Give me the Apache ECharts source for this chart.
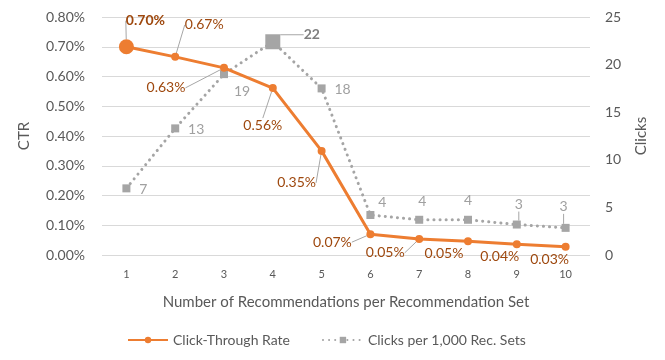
<!DOCTYPE html>
<html>
<head>
<meta charset="utf-8">
<script src="https://cdn.jsdelivr.net/npm/echarts@6/dist/echarts.min.js"></script>
<style>
  html, body { margin: 0; padding: 0; background: #fff; }
  #chart { width: 665px; height: 360px; }
</style>
</head>
<body>
<div id="chart"></div>
<script>
  const categories = ['1', '2', '3', '4', '5', '6', '7', '8', '9', '10']
  const ctrValues = [0.70, 0.666, 0.629, 0.561, 0.35, 0.07, 0.054, 0.046, 0.036, 0.028]
  const ctrLabels = ['0.70%', '0.67%', '0.63%', '0.56%', '0.35%', '0.07%', '0.05%', '0.05%', '0.04%', '0.03%']
  const clickValues = [7.0, 13.3, 19.0, 22.4, 17.5, 4.2, 3.7, 3.7, 3.2, 2.85]
  const clickLabels = ['7', '13', '19', '22', '18', '4', '4', '4', '3', '3']

  // label offsets from each point (dx, dy), like the hand-placed Excel labels
  const ctrLabelOffsets = [[19, -26], [29, -32], [-58, 20], [-10, 37], [-25, 32], [-38, 8], [-34, 14], [-24, 12], [-17, 12], [-16, 13]]
  const ctrLeader = [true, true, true, true, true, true, true, false, false, false]
  const clickLabelOffsets = [[17, 1], [21, 1], [18, 17], [39, -7], [21, 1], [12, -13], [3, -18], [0, -19], [2, -20], [-2, -21]]
  const clickLeader = [false, false, false, true, false, false, false, false, true, true]

  const font = 'Lato, "Open Sans", sans-serif'
  const orange = '#ed7d31'
  const gray = '#a5a5a5'
  const textColor = '#595959'
  const leaderStyle = { color: '#a6a6a6', width: 1 }

  const chart = echarts.init(document.getElementById('chart'))
  const options = {
    animation: false,
    textStyle: { fontFamily: font },
    grid: { left: 102, right: 75, top: 17, bottom: 105 },
    legend: {
      left: 122,
      top: 328,
      itemWidth: 40,
      itemHeight: 8,
      itemGap: 32,
      textStyle: { color: textColor, fontSize: 14, fontFamily: font },
      data: ['Click-Through Rate', 'Clicks per 1,000 Rec. Sets'],
    },
    xAxis: {
      type: 'category',
      data: categories,
      boundaryGap: true,
      axisLine: { show: false },
      axisTick: { show: false },
      axisLabel: { color: textColor, fontSize: 11, margin: 14, fontFamily: font },
      name: 'Number of Recommendations per Recommendation Set',
      nameLocation: 'middle',
      nameGap: 40,
      nameTextStyle: { color: textColor, fontSize: 15, fontFamily: font },
    },
    yAxis: [
      {
        type: 'value',
        min: 0,
        max: 0.8,
        interval: 0.1,
        name: 'CTR',
        nameLocation: 'middle',
        nameGap: 70,
        nameRotate: 90,
        nameTextStyle: { color: textColor, fontSize: 15, fontFamily: font },
        axisLine: { show: false },
        axisTick: { show: false },
        axisLabel: { color: textColor, fontSize: 14, margin: 17, fontFamily: font, formatter: v => v.toFixed(2) + '%' },
        splitLine: { lineStyle: { color: '#d9d9d9', width: 1 } },
      },
      {
        type: 'value',
        min: 0,
        max: 25,
        interval: 5,
        name: 'Clicks',
        nameLocation: 'middle',
        nameGap: 44,
        nameRotate: 90,
        nameTextStyle: { color: textColor, fontSize: 15, fontFamily: font },
        axisLine: { show: false },
        axisTick: { show: false },
        axisLabel: { color: textColor, fontSize: 14, margin: 15, fontFamily: font },
        splitLine: { show: false },
      },
    ],
    series: [
      {
        name: 'Clicks per 1,000 Rec. Sets',
        type: 'line',
        yAxisIndex: 1,
        z: 2,
        symbol: 'rect',
        symbolSize: 8,
        color: gray,
        itemStyle: { color: gray },
        lineStyle: { color: gray, width: 3, type: [0.1, 6], cap: 'round' },
        data: clickValues.map((v, i) => ({
          value: v,
          symbolSize: i === 3 ? 15 : 8,
          label: i === 3 ? { fontWeight: 'bold', color: '#7f7f7f' } : undefined,
          labelLine: { show: clickLeader[i], lineStyle: leaderStyle },
        })),
        label: {
          show: true,
          position: 'inside',
          color: '#a0a0a0',
          fontSize: 14,
          fontFamily: font,
          formatter: p => clickLabels[p.dataIndex],
        },
        labelLayout: p => ({ dx: clickLabelOffsets[p.dataIndex][0], dy: clickLabelOffsets[p.dataIndex][1] }),
        labelLine: { show: true, lineStyle: leaderStyle },
      },
      {
        name: 'Click-Through Rate',
        type: 'line',
        yAxisIndex: 0,
        z: 3,
        symbol: 'circle',
        symbolSize: 8,
        color: orange,
        itemStyle: { color: orange },
        lineStyle: { color: orange, width: 3 },
        data: ctrValues.map((v, i) => ({
          value: v,
          symbolSize: i === 0 ? 15 : 8,
          label: i === 0 ? { fontWeight: 'bold' } : undefined,
          labelLine: { show: ctrLeader[i], lineStyle: leaderStyle },
        })),
        label: {
          show: true,
          position: 'inside',
          color: '#9e480e',
          fontSize: 14,
          fontFamily: font,
          formatter: p => ctrLabels[p.dataIndex],
        },
        labelLayout: p => ({ dx: ctrLabelOffsets[p.dataIndex][0], dy: ctrLabelOffsets[p.dataIndex][1] }),
        labelLine: { show: true, lineStyle: leaderStyle },
      },
    ],
  }
  chart.setOption(options)
</script>
</body>
</html>
